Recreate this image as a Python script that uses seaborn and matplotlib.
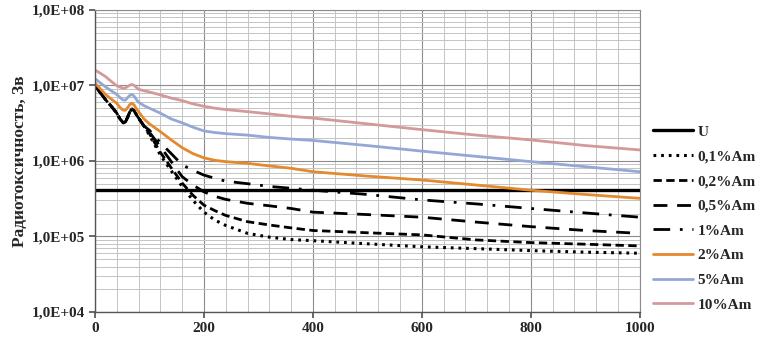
import pandas as pd
import seaborn as sns
import matplotlib.pyplot as plt
import matplotlib.ticker as mticker
import numpy as np

# Time axis (years) and radiotoxicity values
years = [0, 10, 20, 30, 40, 46, 52, 56, 60, 64, 68, 72, 76, 80, 90,
         100, 120, 140, 160, 180, 200, 220, 240, 280, 320, 360, 400,
         500, 600, 700, 800, 900, 1000]

u_level = 4.1e5

# the low-Am curves coincide up to ~90 years
black_early = [1.0e7, 8.0e6, 6.4e6, 5.3e6, 4.3e6, 3.6e6, 3.2e6, 3.3e6, 3.8e6,
               4.5e6, 4.9e6, 4.6e6, 4.1e6, 3.7e6, 2.9e6]

am_0_1 = black_early + [2.2e6, 1.2e6, 7.4e5, 4.6e5, 3.0e5, 2.1e5, 1.65e5, 1.4e5, 1.1e5,
                        9.8e4, 9.1e4, 8.8e4, 8.0e4, 7.3e4, 6.9e4, 6.5e4, 6.2e4, 6.0e4]
am_0_2 = black_early + [2.3e6, 1.3e6, 8.1e5, 5.1e5, 3.5e5, 2.6e5, 2.2e5, 1.9e5, 1.57e5,
                        1.42e5, 1.3e5, 1.2e5, 1.12e5, 1.05e5, 9.0e4, 8.3e4, 7.9e4, 7.5e4]
am_0_5 = black_early + [2.4e6, 1.55e6, 9.8e5, 6.2e5, 4.8e5, 3.9e5, 3.4e5, 3.1e5, 2.75e5,
                        2.55e5, 2.35e5, 2.1e5, 1.95e5, 1.8e5, 1.55e5, 1.35e5, 1.2e5, 1.1e5]
am_1 = black_early + [2.55e6, 1.75e6, 1.25e6, 8.9e5, 7.5e5, 6.5e5, 5.9e5, 5.4e5, 5.0e5,
                      4.6e5, 4.35e5, 4.1e5, 3.6e5, 3.05e5, 2.7e5, 2.35e5, 2.05e5, 1.8e5]
am_2 = [1.08e7, 9.0e6, 7.5e6, 6.6e6, 5.8e6, 5.1e6, 4.7e6, 4.7e6, 5.1e6, 5.6e6, 5.8e6,
        5.5e6, 4.9e6, 4.5e6, 3.6e6, 3.1e6, 2.45e6, 1.9e6, 1.5e6, 1.25e6, 1.1e6, 1.02e6,
        9.8e5, 9.3e5, 8.6e5, 8.0e5, 7.2e5, 6.3e5, 5.6e5, 4.8e5, 4.1e5, 3.6e5, 3.2e5]
am_5 = [1.23e7, 1.08e7, 9.5e6, 8.5e6, 7.6e6, 6.9e6, 6.4e6, 6.4e6, 6.9e6, 7.4e6, 7.6e6,
        7.2e6, 6.5e6, 6.0e6, 5.4e6, 5.0e6, 4.3e6, 3.6e6, 3.2e6, 2.8e6, 2.5e6, 2.38e6,
        2.3e6, 2.2e6, 2.05e6, 1.95e6, 1.87e6, 1.6e6, 1.35e6, 1.15e6, 9.8e5, 8.4e5, 7.2e5]
am_10 = [1.6e7, 1.45e7, 1.3e7, 1.13e7, 9.9e6, 9.5e6, 9.2e6, 9.3e6, 9.7e6, 1.01e7, 1.03e7,
         1.0e7, 9.4e6, 8.9e6, 8.5e6, 8.2e6, 7.5e6, 6.8e6, 6.3e6, 5.7e6, 5.3e6, 5.0e6,
         4.8e6, 4.5e6, 4.2e6, 3.9e6, 3.7e6, 3.1e6, 2.6e6, 2.2e6, 1.9e6, 1.6e6, 1.4e6]

labels = ['U', '0,1%Am', '0,2%Am', '0,5%Am', '1%Am', '2%Am', '5%Am', '10%Am']


def main():
    sns.set_theme(style="white")
    plt.rcParams['font.family'] = ['Liberation Serif', 'DejaVu Serif']
    plt.rcParams['font.weight'] = 'bold'

    fig = plt.figure(figsize=(7.69, 3.43), dpi=100)
    ax = fig.add_axes([0.1235, 0.0904, 0.7085, 0.8806])

    series = [
        ([u_level] * len(years), dict(color='black', lw=2.4, linestyle='-')),
        (am_0_1, dict(color='black', lw=2.2, linestyle=(0, (0.9, 1.6)))),
        (am_0_2, dict(color='black', lw=2.0, linestyle=(0, (3.0, 1.6)))),
        (am_0_5, dict(color='black', lw=2.0, linestyle=(0, (5.0, 3.5)))),
        (am_1, dict(color='black', lw=2.0, linestyle=(0, (6.0, 3.5, 1.0, 3.5)))),
        (am_2, dict(color='#E5892F', lw=2.0, linestyle='-')),
        (am_5, dict(color='#94A8D6', lw=2.0, linestyle='-')),
        (am_10, dict(color='#D4999A', lw=2.0, linestyle='-')),
    ]

    for (vals, style), name in zip(series, labels):
        df = pd.DataFrame({'year': years, 'value': vals})
        sns.lineplot(data=df, x='year', y='value', ax=ax, label=name, **style)

    ax.set_yscale('log')
    ax.set_ylim(1e4, 1e8)
    ax.set_xlim(0, 1000)
    ax.xaxis.set_major_locator(mticker.MultipleLocator(200))
    ax.xaxis.set_minor_locator(mticker.MultipleLocator(40))
    ax.yaxis.set_major_locator(mticker.LogLocator(base=10, numticks=10))
    ax.yaxis.set_minor_locator(mticker.LogLocator(base=10, subs=np.arange(2, 10), numticks=20))
    ax.yaxis.set_minor_formatter(mticker.NullFormatter())
    ax.yaxis.set_major_formatter(mticker.FuncFormatter(
        lambda v, p: '1,0E+0%d' % int(round(np.log10(v)))))

    ax.grid(which='major', color='#8c8c8c', lw=0.8)
    ax.grid(which='minor', color='#c4c4c4', lw=0.7)
    ax.set_axisbelow(True)

    for s in ['top', 'right']:
        ax.spines[s].set_color('#8c8c8c')
        ax.spines[s].set_linewidth(0.8)
    for s in ['left', 'bottom']:
        ax.spines[s].set_color('#555555')
        ax.spines[s].set_linewidth(1.0)

    ax.tick_params(axis='both', which='major', labelsize=11, length=4,
                   direction='out', color='#555555', left=True, bottom=True, pad=3)
    ax.tick_params(axis='both', which='minor', length=0)
    for t in ax.get_xticklabels() + ax.get_yticklabels():
        t.set_fontweight('bold')

    ax.set_xlabel('')
    ax.set_ylabel('Радиотоксичность, Зв', fontsize=12.5, fontweight='bold', labelpad=3)

    ax.legend(loc='center left', bbox_to_anchor=(1.005, 0.31), frameon=False,
              handlelength=2.6, handletextpad=0.3, labelspacing=0.72,
              borderaxespad=0.3, prop={'weight': 'bold', 'size': 11})

    fig.savefig('out.png', dpi=100)


if __name__ == "__main__":
    main()
